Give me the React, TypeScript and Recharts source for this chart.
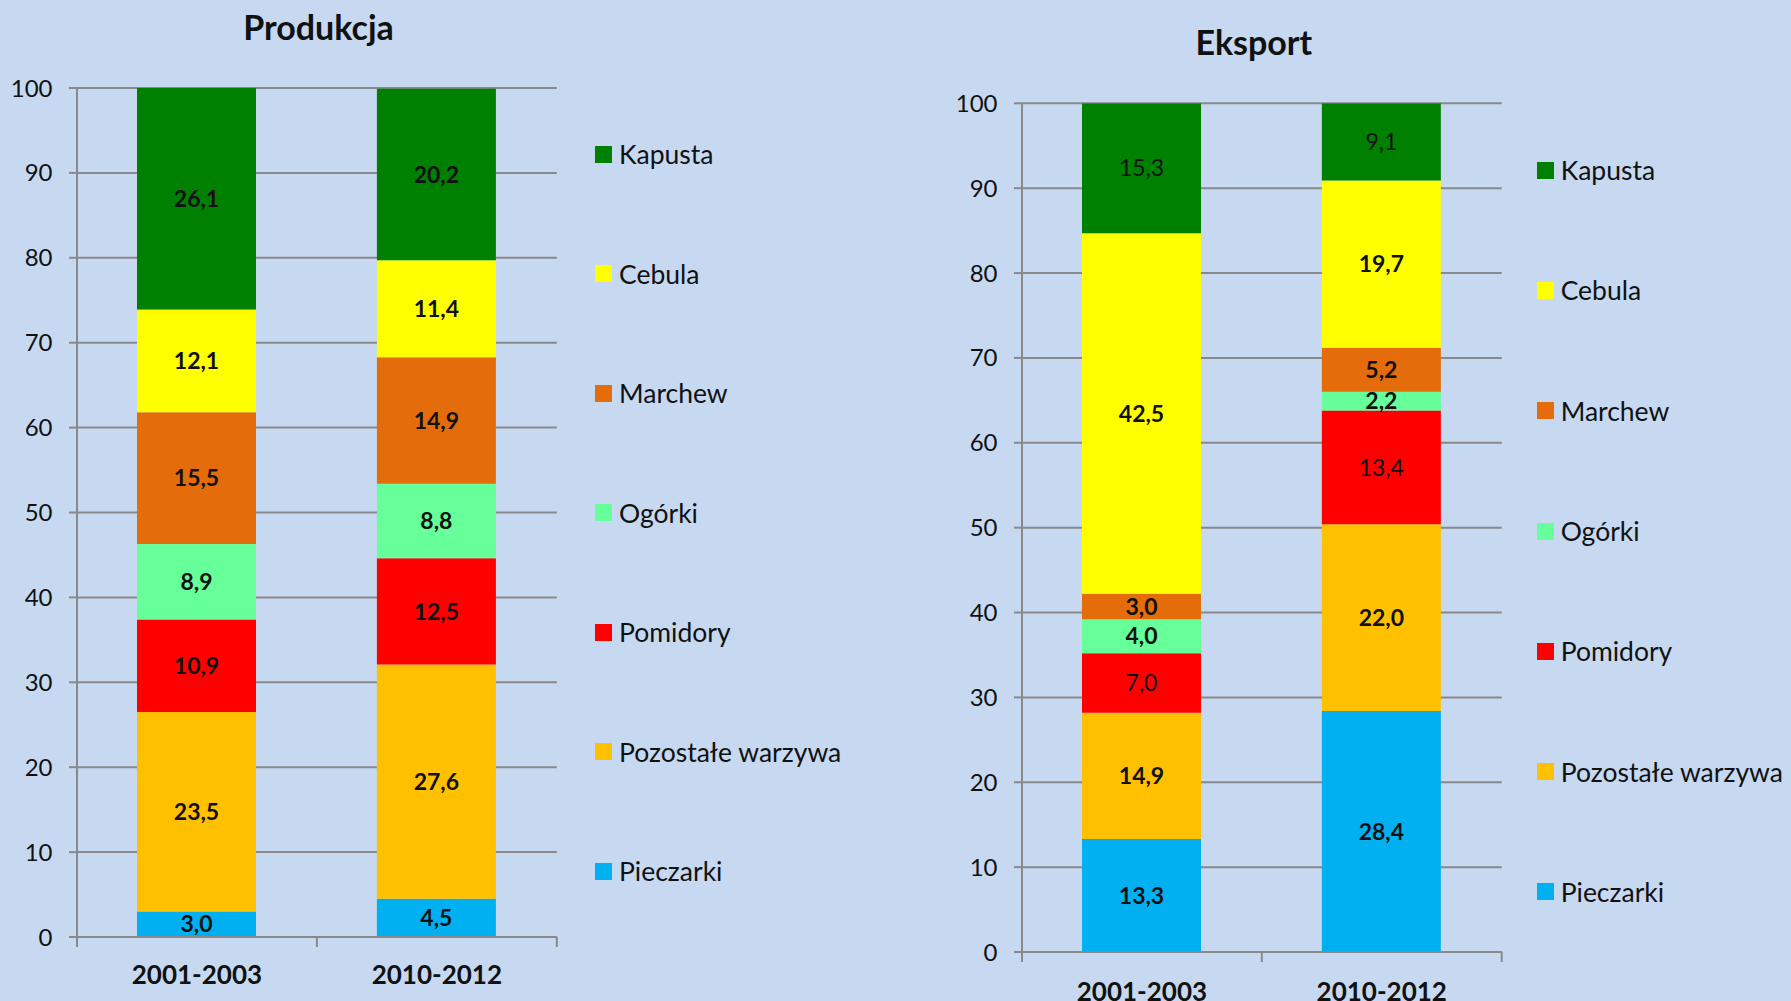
import { BarChart, Bar, XAxis, YAxis, CartesianGrid, Legend, LabelList } from 'recharts'

const FONT = 'Lato, "Open Sans", sans-serif'
const BG = '#C6D9F1'
const GRID = '#898989'
const INK = '#111111'

const categories = ['2001-2003', '2010-2012']
const seriesNames = ['Pieczarki', 'Pozostałe warzywa', 'Pomidory', 'Ogórki', 'Marchew', 'Cebula', 'Kapusta']
const seriesColors = ['#00B0F0', '#FFC000', '#FF0000', '#66FF99', '#E46C0A', '#FFFF00', '#008000']

const produkcja2001 = [3.0, 23.5, 10.9, 8.9, 15.5, 12.1, 26.1]
const produkcja2010 = [4.5, 27.6, 12.5, 8.8, 14.9, 11.4, 20.2]
const eksport2001 = [13.3, 14.9, 7.0, 4.0, 3.0, 42.5, 15.3]
const eksport2010 = [28.4, 22.0, 13.4, 2.2, 5.2, 19.7, 9.1]

const yTicks = [0, 10, 20, 30, 40, 50, 60, 70, 80, 90, 100]
// in the Eksport panel the labels on green and red segments are not bold
const eksportRegular = ['Kapusta', 'Pomidory']

function toRows(cols: number[][]) {
    return categories.map((cat, i) => {
        const row: Record<string, string | number> = { cat }
        seriesNames.forEach((_, j) => {
            row['s' + j] = cols[i][j]
        })
        return row
    })
}

const fmt = (v: any) => (typeof v === 'number' ? v.toFixed(1).replace('.', ',') : v)

function CatTick({ x, y, payload, index, visibleTicksCount, gap }: any) {
    const half = payload?.offset
    const top = y - gap
    const edges = typeof half === 'number' && half > 0
    return (
        <g>
            {edges && <line x1={x - half} x2={x - half} y1={top} y2={top + 10} stroke={GRID} strokeWidth={2} />}
            {edges && index === visibleTicksCount - 1 && (
                <line x1={x + half} x2={x + half} y1={top} y2={top + 10} stroke={GRID} strokeWidth={2} />
            )}
            <text
                x={x}
                y={y}
                dy="0.72em"
                textAnchor="middle"
                fill={INK}
                style={{ fontFamily: FONT, fontSize: 26, fontWeight: 700 }}
            >
                {payload.value}
            </text>
        </g>
    )
}

function LegendBox({ payload, rowH }: any) {
    // top-down: same order as the stack, Kapusta first
    const items = [...(payload || [])].sort(
        (a: any, b: any) => seriesNames.indexOf(b.value) - seriesNames.indexOf(a.value)
    )
    return (
        <div style={{ fontFamily: FONT }}>
            {items.map((it: any) => (
                <div key={it.value} style={{ height: rowH, display: 'flex', alignItems: 'center' }}>
                    <span style={{ width: 17, height: 17, background: it.color, marginRight: 7, flex: 'none' }} />
                    <span style={{ fontSize: 26.5, color: INK, whiteSpace: 'nowrap' }}>{it.value}</span>
                </div>
            ))}
        </div>
    )
}

interface PanelProps {
    title: string
    rows: Record<string, string | number>[]
    left: number
    width: number
    margin: { top: number; right: number; left: number; bottom: number }
    xHeight: number
    xGap: number
    titleX: number
    titleTop: number
    legendLeft: number
    legendTop: number
    legendRow: number
    regular: string[]
}

function Panel(p: PanelProps) {
    return (
        <div style={{ position: 'absolute', left: p.left, top: 0, width: p.width, height: 1001 }}>
            <div
                style={{
                    position: 'absolute',
                    left: p.titleX - 200,
                    width: 400,
                    top: p.titleTop,
                    textAlign: 'center',
                    fontFamily: FONT,
                    fontWeight: 700,
                    fontSize: 34,
                    lineHeight: '34px',
                    color: INK,
                }}
            >
                {p.title}
            </div>
            <BarChart width={p.width} height={1001} data={p.rows} margin={p.margin}>
                <CartesianGrid vertical={false} stroke={GRID} strokeWidth={2} />
                <XAxis
                    dataKey="cat"
                    height={p.xHeight}
                    axisLine={{ stroke: GRID, strokeWidth: 2 }}
                    tickLine={false}
                    tickSize={0}
                    tickMargin={p.xGap}
                    interval={0}
                    tick={(t: any) => <CatTick {...t} gap={p.xGap} />}
                />
                <YAxis
                    domain={[0, 100]}
                    ticks={yTicks}
                    interval={0}
                    width={70}
                    tickSize={8}
                    tickMargin={16.5}
                    allowDataOverflow
                    axisLine={{ stroke: GRID, strokeWidth: 2 }}
                    tickLine={{ stroke: GRID, strokeWidth: 2 }}
                    tick={{ fontSize: 24, fill: INK, fontFamily: FONT }}
                />
                <Legend
                    layout="vertical"
                    align="center"
                    verticalAlign="middle"
                    wrapperStyle={{ left: p.legendLeft, top: p.legendTop, width: 320 }}
                    content={(lp: any) => <LegendBox {...lp} rowH={p.legendRow} />}
                />
                {seriesNames.map((name, j) => (
                    <Bar
                        key={name}
                        dataKey={'s' + j}
                        name={name}
                        stackId="a"
                        fill={seriesColors[j]}
                        barSize={119}
                        isAnimationActive={false}
                    >
                        <LabelList
                            dataKey={'s' + j}
                            position="center"
                            formatter={fmt}
                            fill={INK}
                            fontSize={23}
                            fontFamily={FONT}
                            fontWeight={p.regular.includes(name) ? 400 : 700}
                        />
                    </Bar>
                ))}
            </BarChart>
        </div>
    )
}

export default function App() {
    return (
        <div
            style={{
                position: 'absolute',
                left: 0,
                top: 0,
                width: 1791,
                height: 1001,
                background: BG,
                overflow: 'hidden',
            }}
        >
            <Panel
                title="Produkcja"
                rows={toRows([produkcja2001, produkcja2010])}
                left={0}
                width={900}
                margin={{ top: 88, right: 343.2, left: 7, bottom: 0 }}
                xHeight={64}
                xGap={28}
                titleX={318.6}
                titleTop={10}
                legendLeft={595}
                legendTop={94.3}
                legendRow={119.5}
                regular={[]}
            />
            <Panel
                title="Eksport"
                rows={toRows([eksport2001, eksport2010])}
                left={940}
                width={851}
                margin={{ top: 103.3, right: 289.3, left: 12, bottom: 0 }}
                xHeight={49}
                xGap={30}
                titleX={313.8}
                titleTop={25}
                legendLeft={596.7}
                legendTop={110}
                legendRow={120.3}
                regular={eksportRegular}
            />
        </div>
    )
}
